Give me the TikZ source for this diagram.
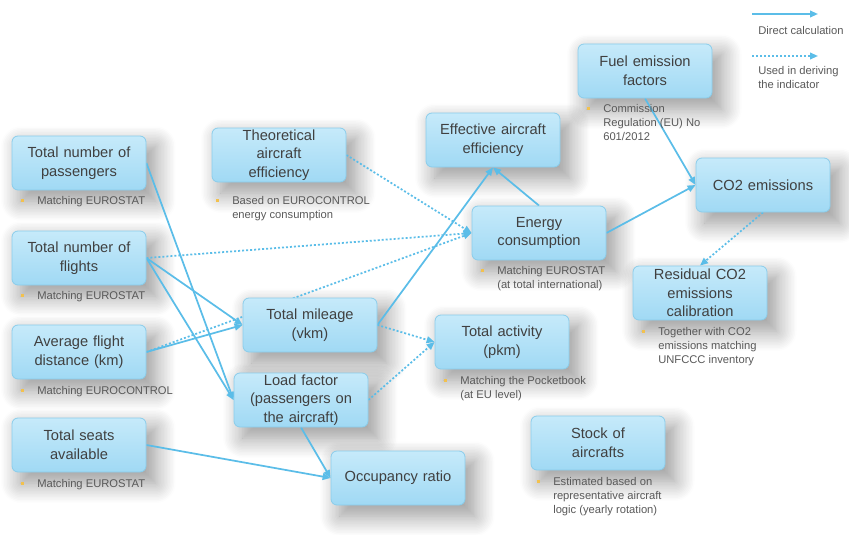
\documentclass[tikz,border=0pt]{standalone}
\usepackage{fontspec}
\setmainfont{Liberation Sans}
\usetikzlibrary{arrows.meta, shadows.blur}
\definecolor{cline}{HTML}{5BBDE8}
\definecolor{boxtop}{HTML}{C6EAFA}
\definecolor{boxbot}{HTML}{A0D9F4}
\definecolor{boxline}{HTML}{8ACDEB}
\definecolor{ctext}{HTML}{404040}
\definecolor{cnote}{HTML}{595959}
\definecolor{cbullet}{HTML}{F2C14E}
\pgfdeclarelayer{shade}
\pgfdeclarelayer{edges}
\pgfsetlayers{shade,edges,main}
\newcommand{\ndot}{\llap{{\color{cbullet}\raisebox{2pt}{\rule{2.4pt}{2.4pt}}}\hspace{10pt}}}

\begin{document}
\begin{tikzpicture}[x=0.75pt, y=-0.75pt,
  box/.style={rectangle, rounded corners=4.5pt, draw=boxline, line width=0.6pt,
    top color=boxtop, bottom color=boxbot, minimum width=100.5pt, minimum height=40.5pt,
    text width=96pt, inner xsep=2pt, inner ysep=0.5pt, align=center, text=ctext,
    font=\fontsize{11}{14}\selectfont},
  note/.style={anchor=north west, inner sep=0pt, align=left, text=cnote,
    font=\fontsize{8.4}{10.5}\selectfont},
  boxshade/.style={blur shadow={shadow xshift=7pt, shadow yshift=-8pt,
    shadow blur radius=15pt, shadow blur steps=14, shadow opacity=42}},
  direct/.style={cline, line width=1.3pt, -{Triangle[length=6pt,width=5pt]}},
  derived/.style={direct, dash pattern=on 1.5pt off 1.5pt}]
  \useasboundingbox (0,0) rectangle (849,535);

  % Input boxes
  \node[box] (pass) at (79,163) {Total number of\\passengers};
  \node[box] (flights) at (79,258) {Total number of\\flights};
  \node[box] (avgdist) at (79,352) {Average flight\\distance (km)};
  \node[box] (seats) at (79,445) {Total seats\\available};
  \node[box] (theo) at (279,155) {Theoretical\\aircraft\\efficiency};
  \node[box] (fuel) at (645,71) {Fuel emission\\factors};
  \node[box] (stock) at (598,443) {Stock of\\aircrafts};

  % Derived boxes
  \node[box] (mileage) at (310,325) {Total mileage\\(vkm)};
  \node[box] (load) at (301,400) {Load factor\\(passengers on\\the aircraft)};
  \node[box] (occ) at (398,478) {Occupancy ratio};
  \node[box] (eff) at (493,140) {Effective aircraft\\efficiency};
  \node[box] (energy) at (539,233) {Energy\\consumption};
  \node[box] (activity) at (502,342) {Total activity\\(pkm)};
  \node[box] (co2) at (763,185) {CO2 emissions};
  \node[box] (resid) at (700,293) {Residual CO2\\emissions\\calibration};

  % Notes
  \node[note] (passnote) at (37,196) {\ndot Matching EUROSTAT};
  \node[note] (flightsnote) at (37,291) {\ndot Matching EUROSTAT};
  \node[note] (avgnote) at (37,386) {\ndot Matching EUROCONTROL};
  \node[note] (seatsnote) at (37,479) {\ndot Matching EUROSTAT};
  \node[note] (theonote) at (232,196) {\ndot Based on EUROCONTROL\\energy consumption};
  \node[note] (energynote) at (497,266) {\ndot Matching EUROSTAT\\(at total international)};
  \node[note] (actnote) at (460,376) {\ndot Matching the Pocketbook\\(at EU level)};
  \node[note] (fuelnote) at (603,104) {\ndot Commission\\Regulation (EU) No\\601/2012};
  \node[note] (residnote) at (658,327) {\ndot Together with CO2\\emissions matching\\UNFCCC inventory};
  \node[note] (stocknote) at (553,477) {\ndot Estimated based on\\representative aircraft\\logic (yearly rotation)};

  % Legend
  \coordinate (lsa) at (752,14);
  \coordinate (lsb) at (818,14);
  \coordinate (lda) at (752,56);
  \coordinate (ldb) at (818,56);
  \node[note] (lsnote) at (758,26) {Direct calculation};
  \node[note] (ldnote) at (758,66) {Used in deriving\\the indicator};

  % Shadows
  \begin{pgfonlayer}{shade}
    \foreach \n in {pass,flights,avgdist,seats,theo,fuel,stock,mileage,load,occ,eff,energy,activity,co2,resid}
      \path[boxshade] (\n.south west) rectangle (\n.north east);
  \end{pgfonlayer}

  % Connectors
  \begin{pgfonlayer}{edges}
    \draw[direct] (pass.east) -- (load.west);
    \draw[direct] (flights.east) -- (load.west);
    \draw[direct] (flights.east) -- (mileage.west);
    \draw[direct] (avgdist.east) -- (mileage.west);
    \draw[direct] (seats.east) -- (occ.west);
    \draw[direct] (load.south) -- (occ.west);
    \draw[direct] (mileage.east) -- (eff.south);
    \draw[direct] (energy.north) -- (eff.south);
    \draw[direct] (energy.east) -- (co2.west);
    \draw[direct] (fuel.south) -- (co2.west);
    \draw[derived] (theo.east) -- (energy.west);
    \draw[derived] (flights.east) -- (energy.west);
    \draw[derived] (avgdist.east) -- (energy.west);
    \draw[derived] (mileage.east) -- (activity.west);
    \draw[derived] (load.east) -- (activity.west);
    \draw[derived] (co2.south) -- (resid.north);
    \draw[direct] (lsa) -- (lsb);
    \draw[derived] (lda) -- (ldb);
  \end{pgfonlayer}
\end{tikzpicture}
\end{document}
